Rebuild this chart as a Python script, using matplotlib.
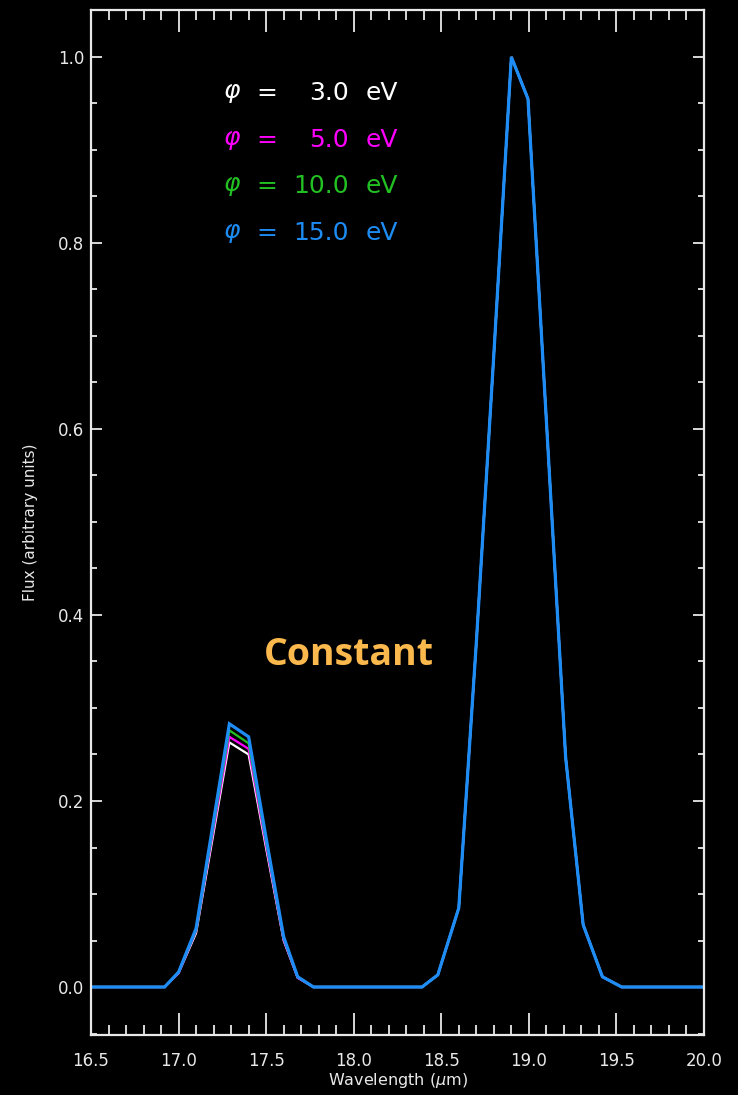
import matplotlib
matplotlib.use("Agg")
import matplotlib.pyplot as plt
from matplotlib.ticker import MultipleLocator, FormatStrFormatter

# Wavelength grid (shared by all curves)
wavelength = [16.50, 16.92, 17.00, 17.10, 17.20, 17.29, 17.40, 17.50, 17.60, 17.68, 17.77,
              18.39, 18.48, 18.60, 18.70, 18.80, 18.90, 18.995, 19.10, 19.21, 19.31, 19.42,
              19.53, 20.00]

# Normalised flux for each work-function value
flux_3ev = [0, 0, 0.015, 0.058, 0.166, 0.263, 0.250, 0.149, 0.050, 0.010, 0,
            0, 0.013, 0.085, 0.37, 0.68, 1.0, 0.955, 0.609, 0.247, 0.067, 0.011, 0, 0]
flux_5ev = [0, 0, 0.015, 0.060, 0.170, 0.269, 0.256, 0.152, 0.051, 0.010, 0,
            0, 0.013, 0.085, 0.37, 0.68, 1.0, 0.955, 0.609, 0.247, 0.067, 0.011, 0, 0]
flux_10ev = [0, 0, 0.016, 0.061, 0.174, 0.276, 0.262, 0.156, 0.053, 0.011, 0,
             0, 0.013, 0.085, 0.37, 0.68, 1.0, 0.955, 0.609, 0.247, 0.067, 0.011, 0, 0]
flux_15ev = [0, 0, 0.016, 0.063, 0.179, 0.283, 0.269, 0.160, 0.054, 0.011, 0,
             0, 0.013, 0.085, 0.37, 0.68, 1.0, 0.955, 0.609, 0.247, 0.067, 0.011, 0, 0]

phi_labels = ["3.0", "5.0", "10.0", "15.0"]
series = [flux_3ev, flux_5ev, flux_10ev, flux_15ev]
colors = ["#ffffff", "#ff00ff", "#22c022", "#1e8cf5"]
widths = [1.6, 1.6, 1.6, 2.3]

W, H = 738, 1095
fig = plt.figure(figsize=(W / 100, H / 100), dpi=100, facecolor="black")
ax = fig.add_axes([91 / W, 60 / H, 613 / W, 1025 / H], facecolor="black")

for ys, c, lw in zip(series, colors, widths):
    ax.plot(wavelength, ys, color=c, lw=lw, solid_joinstyle="miter")

ax.set_xlim(16.5, 20.0)
ax.set_ylim(-0.0516, 1.0505)

axis_col = "#e8e8e8"
for sp in ax.spines.values():
    sp.set_color(axis_col)
    sp.set_linewidth(1.6)

ax.xaxis.set_major_locator(MultipleLocator(0.5))
ax.xaxis.set_minor_locator(MultipleLocator(0.1))
ax.yaxis.set_major_locator(MultipleLocator(0.2))
ax.yaxis.set_minor_locator(MultipleLocator(0.05))
ax.xaxis.set_major_formatter(FormatStrFormatter("%.1f"))
ax.yaxis.set_major_formatter(FormatStrFormatter("%.1f"))

ax.tick_params(axis="x", which="major", direction="in", length=16, width=1.3,
               top=True, bottom=True, colors=axis_col, labelsize=12, pad=12)
ax.tick_params(axis="x", which="minor", direction="in", length=7.5, width=1.3,
               top=True, bottom=True, colors=axis_col)
ax.tick_params(axis="y", which="major", direction="in", length=8, width=1.3,
               left=True, right=True, colors=axis_col, labelsize=12, pad=5)
ax.tick_params(axis="y", which="minor", direction="in", length=4.5, width=1.3,
               left=True, right=True, colors=axis_col)

ax.set_xlabel("Wavelength ($\\mu$m)", color=axis_col, fontsize=11.5, labelpad=1)
ax.set_ylabel("Flux (arbitrary units)", color=axis_col, fontsize=11, labelpad=14)

# Legend written as text lines in the upper left
row_y = [93, 140, 186, 233]
for lab, c, yy in zip(phi_labels, colors, row_y):
    yf = 1 - yy / H
    fig.text(223 / W, yf, "$\\varphi$", color=c, fontsize=18, va="center", ha="left")
    fig.text(256 / W, yf, "=", color=c, fontsize=18, va="center", ha="left")
    fig.text(349 / W, yf, lab, color=c, fontsize=18, va="center", ha="right")
    fig.text(366 / W, yf, "eV", color=c, fontsize=18, va="center", ha="left")

fig.text(349 / W, 1 - 655 / H, "Constant", color="#fbb84c", fontsize=27,
         fontweight="bold", family="Open Sans", ha="center", va="center")

fig.savefig("out.png", dpi=100, facecolor="black")
